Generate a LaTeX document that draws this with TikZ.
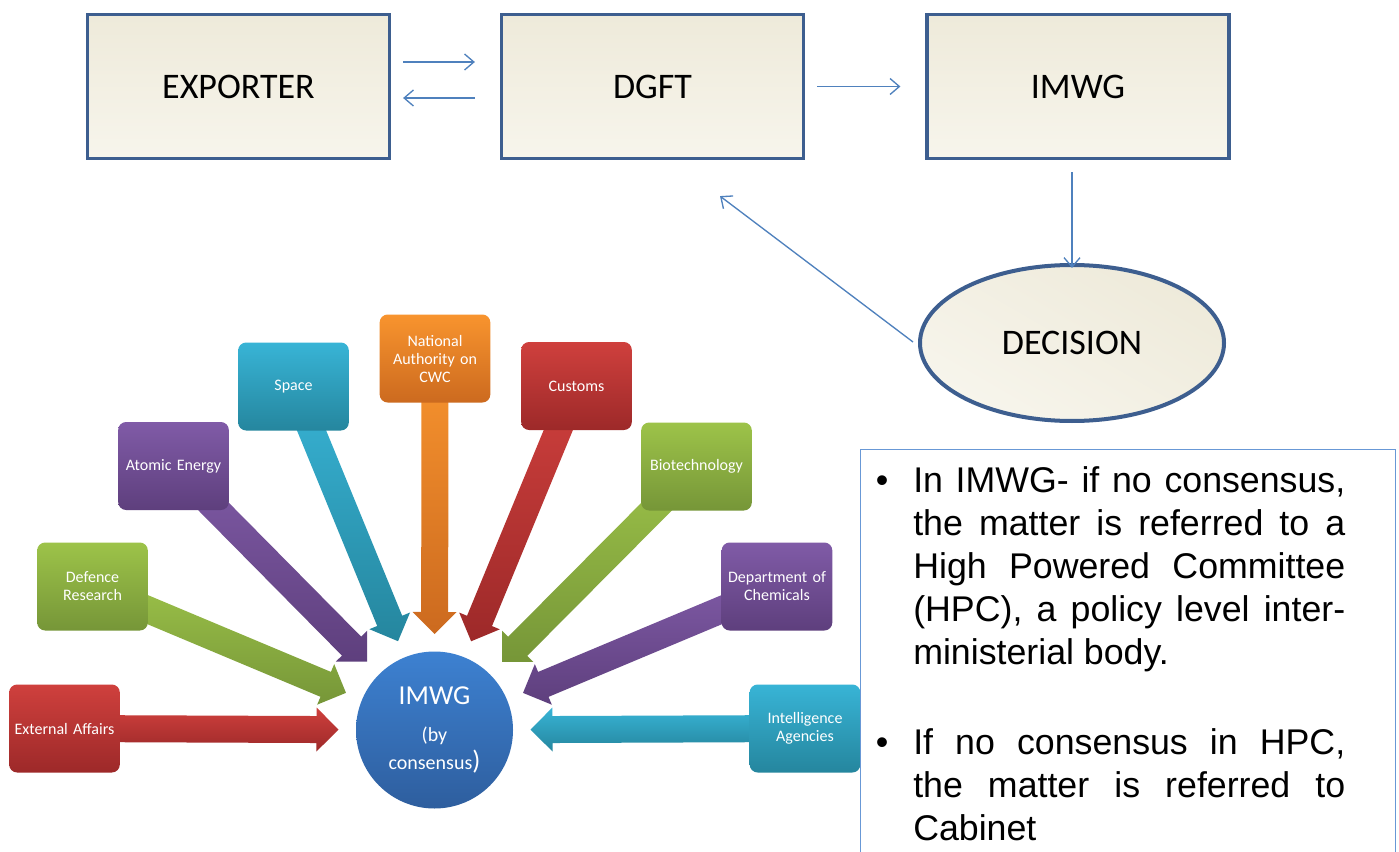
\documentclass[tikz,border=0pt]{standalone}
\usepackage{fontspec}
\setmainfont{Carlito}
\newfontfamily\notefont{Liberation Sans}
\usetikzlibrary{arrows.meta,calc,backgrounds,shapes.geometric}

\definecolor{boxline}{RGB}{61,94,143}
\definecolor{creamT}{RGB}{238,234,218}
\definecolor{creamB}{RGB}{247,245,236}
\definecolor{flowline}{RGB}{79,129,189}
\definecolor{noteline}{RGB}{104,152,214}
\definecolor{redT}{RGB}{207,64,61}
\definecolor{redB}{RGB}{157,41,41}
\definecolor{grnT}{RGB}{157,195,73}
\definecolor{grnB}{RGB}{118,150,56}
\definecolor{purT}{RGB}{128,91,167}
\definecolor{purB}{RGB}{94,63,125}
\definecolor{tealT}{RGB}{56,180,214}
\definecolor{tealB}{RGB}{37,134,158}
\definecolor{orgT}{RGB}{248,148,46}
\definecolor{orgB}{RGB}{204,106,31}
\definecolor{bluT}{RGB}{61,129,209}
\definecolor{bluB}{RGB}{46,94,158}

\tikzset{
  stagebox/.style={draw=boxline, line width=2.4pt, top color=creamT, bottom color=creamB,
    minimum width=226.5pt, minimum height=108pt, font=\fontsize{27}{30}\selectfont},
  flow/.style={draw=flowline, line width=1pt, -{Straight Barb[length=7pt,width=12pt]}},
  member/.style={rounded corners=6pt, minimum width=83pt, minimum height=66pt,
    text width=76pt, align=center, inner sep=0pt, text=white,
    font=\fontsize{12}{13.5}\selectfont},
  notetext/.style={anchor=base west, text width=324pt, align=justify, inner sep=0pt,
    font=\notefont\fontsize{26.8}{32.3}\selectfont},
  notedot/.style={anchor=base, inner sep=0pt, font=\notefont\fontsize{26.8}{32.3}\selectfont}
}

\begin{document}
\begin{tikzpicture}[x=0.75pt,y=0.75pt,yscale=-1,xscale=1]
\useasboundingbox (0,0) rectangle (1399,852);

%Top flow
\node (exp) [stagebox] at (238.5,86.5) {EXPORTER};
\node (dgft) [stagebox] at (652.5,86.5) {DGFT};
\node (imwg) [stagebox] at (1078,86.5) {IMWG};
\node (dec) [ellipse, draw=boxline, line width=3pt, top color=creamT, bottom color=creamB,
  shading angle=-30, minimum width=228pt, minimum height=117pt,
  font=\fontsize{27}{30}\selectfont] at (1072,343) {DECISION};
\coordinate (back) at ($(dgft.south)+(67.5,36)$);

\draw[flow] ($(exp.east)+(12,-24.5)$) -- ($(dgft.west)+(-25,-24.5)$);
\draw[flow] ($(dgft.west)+(-25,11.5)$) -- ($(exp.east)+(12,11.5)$);
\draw[flow] ($(dgft.east)+(12,0)$) -- ($(imwg.west)+(-25,0)$);
\draw[flow] ($(imwg.south)+(-6,12)$) -- ($(dec.north)+(0,5)$);
\draw[flow] ($(dec.west)+(-5,-1)$) -- (back);

%Members round IMWG
\node (core) [circle, minimum size=117.75pt, inner sep=0pt, top color=bluT, bottom color=bluB,
  text=white, align=center, font=\fontsize{15}{21}\selectfont] at (434.5,730)
  {{\fontsize{20.5}{21}\selectfont IMWG}\\[6.4pt](by\\consensus{\fontsize{20}{21}\selectfont)}};

\node (ext) [member, top color=redT, bottom color=redB] at (64.5,728.5) {External Affairs};
\node (def) [member, top color=grnT, bottom color=grnB] at (92.5,586.5) {Defence\\Research};
\node (atom) [member, top color=purT, bottom color=purB] at (173.5,466) {Atomic Energy};
\node (space) [member, top color=tealT, bottom color=tealB] at (293.5,386.5) {Space};
\node (cwc) [member, top color=orgT, bottom color=orgB] at (435,358.5) {National\\Authority on\\CWC};
\node (cust) [member, top color=redT, bottom color=redB] at (576.5,386) {Customs};
\node (bio) [member, top color=grnT, bottom color=grnB] at (696.5,466.5) {Biotechnology};
\node (chem) [member, top color=purT, bottom color=purB] at (777,586.5) {Department of\\Chemicals};
\node (intel) [member, top color=tealT, bottom color=tealB] at (805,728.5) {Intelligence\\Agencies};

\begin{pgfonlayer}{background}
\fill[white] (0,0) rectangle (1399,852);
\foreach \src/\tc/\bc in {ext/redT/redB, def/grnT/grnB, atom/purT/purB, space/tealT/tealB,
    cwc/orgT/orgB, cust/redT/redB, bio/grnT/grnB, chem/purT/purB, intel/tealT/tealB}{
  \coordinate (hb) at ($(core.center)!88.5pt!(\src.center)$);
  \coordinate (tp) at ($(core.center)!72pt!(\src.center)$);
  \shade[top color=\tc, bottom color=\bc]
    ($(\src.center)!10.125pt!90:(core.center)$) -- ($(hb)!10.125pt!90:(core.center)$)
    -- ($(hb)!16.5pt!90:(core.center)$) -- (tp) -- ($(hb)!16.5pt!-90:(core.center)$)
    -- ($(hb)!10.125pt!-90:(core.center)$) -- ($(\src.center)!10.125pt!-90:(core.center)$) -- cycle;
}
\end{pgfonlayer}

%Notes
\node (notes) [draw=noteline, line width=1.1pt, minimum width=401.25pt, minimum height=315pt,
  anchor=north west, inner sep=0pt] at (860,449) {};
\node (dotA) [notedot] at (882,492) {•};
\node (itemA) [notetext] at (913,492) {In IMWG- if no consensus,\linebreak the matter is referred to a\linebreak High Powered Committee\linebreak (HPC), a policy level inter-\linebreak ministerial body.};
\node (dotB) [notedot] at (882,754) {•};
\node (itemB) [notetext] at (913,754) {If no consensus in HPC,\linebreak the matter is referred to\linebreak Cabinet};

\end{tikzpicture}
\end{document}
